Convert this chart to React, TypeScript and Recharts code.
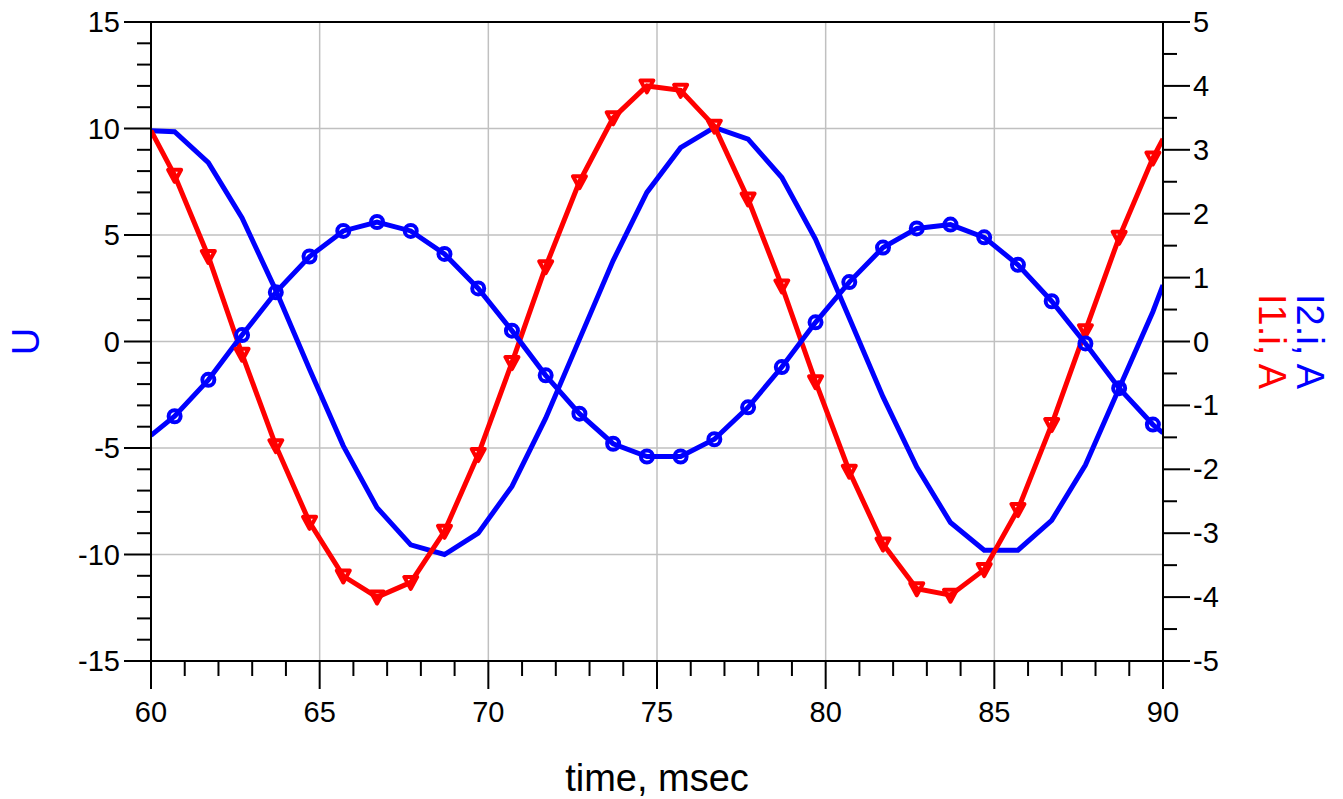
import React from 'react';
import { ComposedChart, Line, XAxis, YAxis, CartesianGrid, ReferenceLine, Label } from 'recharts';

const timeMs = [60, 60.7, 61.7, 62.7, 63.7, 64.7, 65.7, 66.7, 67.7, 68.7, 69.7, 70.7, 71.7, 72.7, 73.7, 74.7, 75.7, 76.7, 77.7, 78.7, 79.7, 80.7, 81.7, 82.7, 83.7, 84.7, 85.7, 86.7, 87.7, 88.7, 89.7, 90];
const uVolts = [9.9, 9.85, 8.4, 5.8, 2.4, -1.3, -4.9, -7.8, -9.55, -10, -9, -6.8, -3.6, 0.1, 3.8, 7, 9.1, 10.05, 9.5, 7.7, 4.8, 1.1, -2.6, -5.9, -8.5, -9.8, -9.8, -8.4, -5.8, -2.2, 1.4, 2.65];
const i1Amps = [3.3, 2.6, 1.33, -0.2, -1.63, -2.83, -3.67, -4.0, -3.77, -2.97, -1.77, -0.33, 1.17, 2.5, 3.5, 4.0, 3.93, 3.37, 2.23, 0.87, -0.63, -2.03, -3.17, -3.87, -3.97, -3.57, -2.63, -1.3, 0.17, 1.63, 2.87, 3.17];
const i2Amps = [-1.47, -1.17, -0.6, 0.1, 0.77, 1.33, 1.73, 1.87, 1.73, 1.37, 0.83, 0.17, -0.53, -1.13, -1.6, -1.8, -1.8, -1.53, -1.03, -0.4, 0.3, 0.93, 1.47, 1.77, 1.83, 1.63, 1.2, 0.63, -0.03, -0.73, -1.3, -1.43];

const xTicks = [60, 61, 62, 63, 64, 65, 66, 67, 68, 69, 70, 71, 72, 73, 74, 75, 76, 77, 78, 79, 80, 81, 82, 83, 84, 85, 86, 87, 88, 89, 90];
const xMajorTicks = [60, 65, 70, 75, 80, 85, 90];
const xGridValues = [65, 70, 75, 80, 85];
const leftTicks = [-15, -14, -13, -12, -11, -10, -9, -8, -7, -6, -5, -4, -3, -2, -1, 0, 1, 2, 3, 4, 5, 6, 7, 8, 9, 10, 11, 12, 13, 14, 15];
const leftMajorTicks = [-15, -10, -5, 0, 5, 10, 15];
const leftGridValues = [-10, -5, 0, 5, 10];
const rightTicks = [-5, -4.5, -4, -3.5, -3, -2.5, -2, -1.5, -1, -0.5, 0, 0.5, 1, 1.5, 2, 2.5, 3, 3.5, 4, 4.5, 5];
const rightMajorTicks = [-5, -4, -3, -2, -1, 0, 1, 2, 3, 4, 5];

const rows = timeMs.map((t, i) => ({ t, u: uVolts[i], i1: i1Amps[i], i2: i2Amps[i] }));

const FONT = 'Liberation Sans, Arial, Helvetica, sans-serif';
const BLUE = '#0000ff';
const RED = '#ff0000';
const TICK_FS = 29;
const TITLE_FS = 38;
const LINE_W = 5;

const XTick = (props: any) => {
  const { x, y, payload } = props;
  const major = xMajorTicks.includes(payload.value);
  return (
    <g>
      <line x1={x} x2={x} y1={y} y2={y + (major ? 28 : 15)} stroke="#000" strokeWidth={2} />
      {major && (
        <text x={x} y={y + 61} textAnchor="middle" fontSize={TICK_FS} fontFamily={FONT} fill="#000">
          {payload.value}
        </text>
      )}
    </g>
  );
};

const LeftTick = (props: any) => {
  const { x, y, payload } = props;
  const major = leftMajorTicks.includes(payload.value);
  return (
    <g>
      <line x1={x} x2={x - (major ? 27 : 14)} y1={y} y2={y} stroke="#000" strokeWidth={2} />
      {major && (
        <text x={x - 31} y={y + 10} textAnchor="end" fontSize={TICK_FS} fontFamily={FONT} fill="#000">
          {payload.value}
        </text>
      )}
    </g>
  );
};

const RightTick = (props: any) => {
  const { x, y, payload } = props;
  const major = rightMajorTicks.includes(payload.value);
  return (
    <g>
      <line x1={x} x2={x + (major ? 27 : 14)} y1={y} y2={y} stroke="#000" strokeWidth={2} />
      {major && (
        <text x={x + 30} y={y + 10} textAnchor="start" fontSize={TICK_FS} fontFamily={FONT} fill="#000">
          {payload.value}
        </text>
      )}
    </g>
  );
};

const lastIndex = timeMs.length - 1;

const TriangleDot = (props: any) => {
  const { cx, cy, index } = props;
  if (index === 0 || index === lastIndex || cx == null || cy == null) return <g key={`tri-${index}`} />;
  const pts = `${cx - 6.5},${cy - 5.5} ${cx + 6.5},${cy - 5.5} ${cx},${cy + 6.5}`;
  return <polygon key={`tri-${index}`} points={pts} fill="none" stroke={RED} strokeWidth={4} strokeLinejoin="round" />;
};

const CircleDot = (props: any) => {
  const { cx, cy, index } = props;
  if (index === 0 || index === lastIndex || cx == null || cy == null) return <g key={`cir-${index}`} />;
  return <circle key={`cir-${index}`} cx={cx} cy={cy} r={6} fill="none" stroke={BLUE} strokeWidth={4} />;
};

const XTitle = (props: any) => {
  const vb = props.viewBox || { x: 151, y: 661, width: 1012, height: 138 };
  return (
    <text x={vb.x + vb.width / 2} y={vb.y + 130} textAnchor="middle" fontSize={TITLE_FS} fontFamily={FONT} fill="#000">
      time, msec
    </text>
  );
};

const LeftTitle = (props: any) => {
  const vb = props.viewBox || { x: 0, y: 22, width: 151, height: 639 };
  const cx = vb.x + 39;
  const cy = vb.y + vb.height / 2;
  return (
    <text x={cx} y={cy} transform={`rotate(-90, ${cx}, ${cy})`} textAnchor="middle" fontSize={TITLE_FS} fontFamily={FONT} fill={BLUE}>
      U
    </text>
  );
};

const RightTitle = (props: any) => {
  const vb = props.viewBox || { x: 1163, y: 22, width: 180, height: 639 };
  const cy = vb.y + vb.height / 2;
  const x1 = vb.x + 96;
  const x2 = vb.x + 134;
  return (
    <g>
      <text x={x1} y={cy} transform={`rotate(90, ${x1}, ${cy})`} textAnchor="middle" fontSize={TITLE_FS} fontFamily={FONT} fill={RED}>
        I1.i, A
      </text>
      <text x={x2} y={cy} transform={`rotate(90, ${x2}, ${cy})`} textAnchor="middle" fontSize={TITLE_FS} fontFamily={FONT} fill={BLUE}>
        I2.i, A
      </text>
    </g>
  );
};

export default function App() {
  return (
    <div style={{ position: 'absolute', left: 0, top: 0, width: 1343, height: 799, background: '#fff' }}>
      <ComposedChart width={1343} height={799} data={rows} margin={{ top: 22, right: 0, bottom: 0, left: 0 }}>
        <CartesianGrid
          yAxisId="left"
          stroke="#c0c0c0"
          strokeWidth={1.5}
          horizontalValues={leftGridValues}
          verticalValues={xGridValues}
        />
        <XAxis
          dataKey="t"
          type="number"
          domain={[60, 90]}
          ticks={xTicks}
          interval={0}
          height={138}
          tickSize={0}
          tickMargin={0}
          tickLine={false}
          axisLine={{ stroke: '#000', strokeWidth: 2 }}
          tick={<XTick />}
          allowDataOverflow
        >
          <Label content={<XTitle />} />
        </XAxis>
        <YAxis
          yAxisId="left"
          orientation="left"
          type="number"
          domain={[-15, 15]}
          ticks={leftTicks}
          interval={0}
          width={151}
          tickSize={0}
          tickMargin={0}
          tickLine={false}
          axisLine={{ stroke: '#000', strokeWidth: 2 }}
          tick={<LeftTick />}
          allowDataOverflow
        >
          <Label content={<LeftTitle />} />
        </YAxis>
        <YAxis
          yAxisId="right"
          orientation="right"
          type="number"
          domain={[-5, 5]}
          ticks={rightTicks}
          interval={0}
          width={180}
          tickSize={0}
          tickMargin={0}
          tickLine={false}
          axisLine={{ stroke: '#000', strokeWidth: 2 }}
          tick={<RightTick />}
          allowDataOverflow
        >
          <Label content={<RightTitle />} />
        </YAxis>
        <ReferenceLine yAxisId="left" y={15} stroke="#000" strokeWidth={2} />
        <Line
          yAxisId="left"
          type="linear"
          dataKey="u"
          stroke={BLUE}
          strokeWidth={LINE_W}
          dot={false}
          activeDot={false}
          isAnimationActive={false}
        />
        <Line
          yAxisId="right"
          type="linear"
          dataKey="i1"
          stroke={RED}
          strokeWidth={LINE_W}
          dot={<TriangleDot />}
          activeDot={false}
          isAnimationActive={false}
        />
        <Line
          yAxisId="right"
          type="linear"
          dataKey="i2"
          stroke={BLUE}
          strokeWidth={LINE_W}
          dot={<CircleDot />}
          activeDot={false}
          isAnimationActive={false}
        />
      </ComposedChart>
    </div>
  );
}
